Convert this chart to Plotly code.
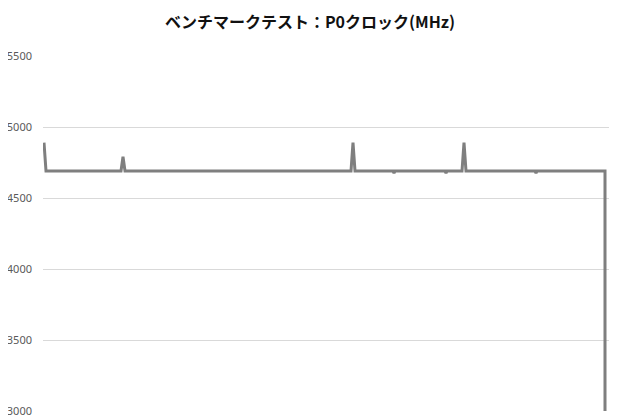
import plotly.graph_objects as go

# sample index and P0 clock readings (MHz)
sample_idx = [1, 2, 3, 78, 80, 82, 308, 310, 312, 350, 351, 352,
              402, 403, 404, 419, 421, 423, 492, 493, 494, 562, 562]
clock_mhz = [4890, 4790, 4690, 4690, 4790, 4690, 4690, 4890, 4690, 4690, 4675, 4690,
             4690, 4675, 4690, 4690, 4890, 4690, 4690, 4675, 4690, 4690, 2500]

y_ticks = [3000, 3500, 4000, 4500, 5000, 5500]

fig = go.Figure()
fig.add_trace(go.Scatter(
    x=sample_idx,
    y=clock_mhz,
    mode="lines",
    line=dict(color="#7f7f7f", width=3),
    hoverinfo="skip",
))

# page body adds an 8px offset, so the figure is drawn slightly smaller
fig.update_layout(
    width=612,
    height=412,
    plot_bgcolor="white",
    paper_bgcolor="white",
    showlegend=False,
    margin=dict(l=35, r=11, t=48, b=9),
    title=dict(
        text="<b>ベンチマークテスト：P0クロック(MHz)</b>",
        x=302 / 612, xanchor="center",
        y=1 - 14 / 412, yanchor="middle",
        font=dict(family="Noto Sans CJK JP", size=16, color="#111111"),
    ),
    font=dict(family="Noto Sans, DejaVu Sans", size=11, color="#595959"),
)
fig.update_xaxes(
    range=[0, 566], automargin=False,
    showgrid=False, zeroline=False, showticklabels=False, showline=False,
)
fig.update_yaxes(
    range=[3000, 5500], automargin=False,
    tickvals=y_ticks,
    showgrid=True, gridcolor="#d9d9d9", gridwidth=1,
    zeroline=False, showline=False,
    ticklabelstandoff=10,
)

fig.write_html("out.html")
